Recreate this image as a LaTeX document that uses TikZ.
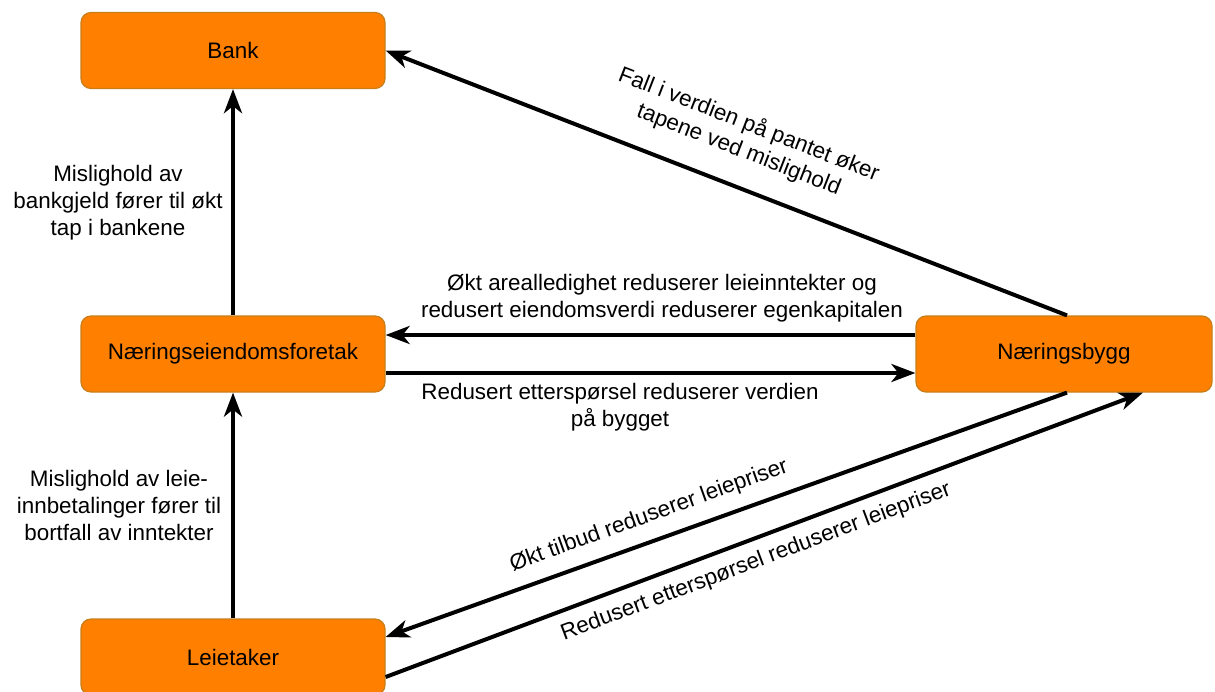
\documentclass[tikz,border=0pt]{standalone}
\usepackage{fontspec}
\setmainfont{Liberation Sans}
\usetikzlibrary{arrows.meta}
\definecolor{boxfill}{RGB}{255,128,0}
\definecolor{boxline}{RGB}{200,125,25}
\begin{document}
\begin{tikzpicture}[x=1pt,y=-1pt,
  box/.style={draw=boxline, fill=boxfill, line width=1.2pt, rounded corners=10pt,
    minimum width=304pt, minimum height=76pt, inner sep=0pt,
    font=\fontsize{22.4}{27}\selectfont},
  lbl/.style={align=center, inner sep=0pt, font=\fontsize{22.4}{27}\selectfont},
  conn/.style={line width=4pt, -{Stealth[length=24pt,width=18pt,inset=7pt]}}]
\useasboundingbox (0,0) rectangle (1215,691);
\node[box] (bank) at (233,50.5) {Bank};
\node[box] (foretak) at (233,354) {Næringseiendomsforetak};
\node[box, minimum width=296pt] (bygg) at (1064,354) {Næringsbygg};
\node[box] (leie) at (233,657) {Leietaker};
\draw[conn] (foretak.north) -- (bank.south);
\draw[conn] (leie.north) -- (foretak.south);
\draw[conn] ([yshift=19pt]bygg.west) -- ([yshift=19pt]foretak.east);
\draw[conn] ([yshift=-19pt]foretak.east) -- ([yshift=-19pt]bygg.west);
\draw[conn] ([xshift=3pt]bygg.north) -- (bank.east);
\draw[conn] ([xshift=3pt]bygg.south) -- ([yshift=20pt]leie.east);
\draw[conn] ([yshift=-20pt]leie.east) -- ([xshift=79pt]bygg.south);
\node[lbl] (l1) at (118,203) {Mislighold av\\bankgjeld fører til økt\\tap i bankene};
\node[lbl] (l2) at (119,505) {Mislighold av leie-\\innbetalinger fører til\\bortfall av inntekter};
\node[lbl] (l3) at (662,298) {Økt arealledighet reduserer leieinntekter og\\redusert eiendomsverdi reduserer egenkapitalen};
\node[lbl] (l4) at (620,407) {Redusert etterspørsel reduserer verdien\\på bygget};
\node[lbl, rotate=-21.3] (l5) at (744,137) {Fall i verdien på pantet øker\\tapene ved mislighold};
\node[lbl, rotate=19.8] (l6) at (649,516) {Økt tilbud reduserer leiepriser};
\node[lbl, rotate=20.6] (l7) at (756,562) {Redusert etterspørsel reduserer leiepriser};
\end{tikzpicture}
\end{document}
